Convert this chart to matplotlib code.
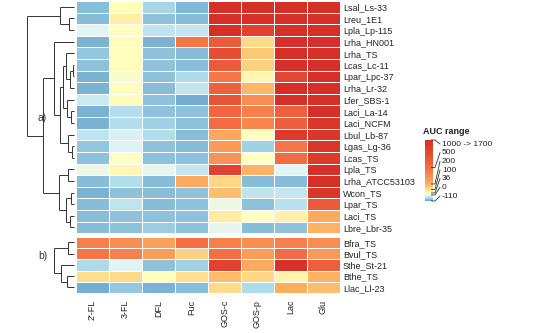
import numpy as np
import matplotlib
matplotlib.use("Agg")
import matplotlib.pyplot as plt

plt.rcParams['font.family'] = ['Liberation Sans', 'DejaVu Sans']

# ---- data ----
columns = ["2'-FL", "3-FL", "DFL", "Fuc", "GOS-c", "GOS-p", "Lac", "Glu"]

rows_a = ["Lsal_Ls-33", "Lreu_1E1", "Lpla_Lp-115", "Lrha_HN001", "Lrha_TS",
          "Lcas_Lc-11", "Lpar_Lpc-37", "Lrha_Lr-32", "Lfer_SBS-1", "Laci_La-14",
          "Laci_NCFM", "Lbul_Lb-87", "Lgas_Lg-36", "Lcas_TS", "Lpla_TS",
          "Lrha_ATCC53103", "Wcon_TS", "Lpar_TS", "Laci_TS", "Lbre_Lbr-35"]
rows_b = ["Bfra_TS", "Bvul_TS", "Sthe_St-21", "Bthe_TS", "Llac_Ll-23"]

# AUC values (estimated from colour)
auc_a = np.array([
    [-85, 40, -60, -90, 1000, 1000, 1000, 1000],
    [-85, 70, -80, -85, 1000, 1000, 1000, 1000],
    [-10, 35, -40, -35, 1000, 850, 1000, 1000],
    [-95, 40, -95, 450, 650, 110, 1000, 1000],
    [-75, 40, -80, -85, 750, 150, 1000, 1000],
    [-80, 40, -80, -85, 650, 130, 1000, 1000],
    [-95, 25, -80, -55, 450, 55, 800, 1000],
    [-95, 40, -85, -40, 600, 180, 1000, 1000],
    [-30, 40, -80, -100, 700, 350, 1000, 1000],
    [-95, -50, -80, -80, 550, 420, 600, 1000],
    [-95, -50, -65, -80, 520, 380, 620, 950],
    [-40, -20, -50, -85, 230, 35, 900, 950],
    [-75, -15, -80, -85, 290, -65, 450, 950],
    [-80, 30, -80, -80, 320, 35, 520, 900],
    [5, 55, -5, -35, 850, 190, -10, 1000],
    [-85, -50, -85, 230, 120, -85, -85, 1000],
    [-95, -80, -85, -80, 170, -40, -35, 950],
    [-85, -40, -85, -80, 5, -80, -45, 650],
    [-85, -80, -80, -80, 75, 35, 65, 210],
    [-85, -80, -70, -80, -5, -85, -80, 190],
])
auc_b = np.array([
    [420, 350, 260, 480, 420, 340, 420, 350],
    [460, 400, 270, 125, 480, 270, 520, 300],
    [-55, -12, -80, -65, 850, 210, 980, 620],
    [105, 110, 38, 100, 170, 115, 60, 190],
    [-100, -75, -95, -85, 110, -55, 200, 170],
])

# dendrograms: (left, right, height); ints are row indices
tree_a = ((0, (1, 2, 2.7), 7.7),
          ((3, (((4, ((5, 6, 1.0), 7, 2.5), 4.5), (8, (9, 10, 2.0), 4.0), 6.0),
                (11, (12, 13, 1.5), 3.5), 7.5), 10.3),
           ((14, 15, 3.5), ((16, 17, 2.0), (18, 19, 2.5), 4.5), 8.0), 16.0),
          24.3)
tree_b = ((0, 1, 3.3), (2, (3, 4, 4.0), 7.0), 10.5)

legend_ticks = [-110, 0, 36, 100, 200, 500, 1000]
legend_labels = ["-110", "0", "36", "100", "200", "500", "1000 -> 1700"]

# ---- colour mapping ----
cmap = plt.get_cmap('RdYlBu_r')
cpos = [0.18, 0.43, 0.5, 0.6, 0.7, 0.8, 0.9]


def to_pos(v):
    return np.interp(v, legend_ticks, cpos)


W, H = 539, 333
fig = plt.figure(figsize=(W / 100, H / 100), dpi=100)


def px_rect(x0, y0, x1, y1):
    return [x0 / W, 1 - y1 / H, (x1 - x0) / W, (y1 - y0) / H]


def draw_tree(ax, node):
    if isinstance(node, int):
        return node + 0.5, 0.0
    left, right, h = node
    yl, hl = draw_tree(ax, left)
    yr, hr = draw_tree(ax, right)
    kw = dict(color='#333333', lw=0.7, solid_capstyle='butt')
    ax.plot([hl, h], [yl, yl], **kw)
    ax.plot([hr, h], [yr, yr], **kw)
    ax.plot([h, h], [yl, yr], **kw)
    return (yl + yr) / 2, h


x0, x1 = 76, 340
blocks = [(rows_a, auc_a, tree_a, 1, 233.2, "a)", 118),
          (rows_b, auc_b, tree_b, 236.8, 293, "b)", 256)]

for i, (rows, auc, tree, ytop, ybot, tag, tag_y) in enumerate(blocks):
    ax = fig.add_axes(px_rect(x0, ytop, x1, ybot))
    ax.pcolormesh(to_pos(auc), cmap=cmap, vmin=0, vmax=1,
                  edgecolors='white', linewidth=0.7)
    ax.set_xlim(0, len(columns))
    ax.set_ylim(len(rows), 0)
    for s in ax.spines.values():
        s.set_visible(False)
    ax.yaxis.tick_right()
    ax.set_yticks(np.arange(len(rows)) + 0.5)
    ax.set_yticklabels(rows, fontsize=6.5, color='#222222')
    ax.tick_params(axis='y', length=0, pad=2)
    if i == 1:
        ax.set_xticks(np.arange(len(columns)) + 0.5)
        ax.set_xticklabels(columns, rotation=90, fontsize=6.5, color='#222222')
        ax.tick_params(axis='x', length=0, pad=5)
    else:
        ax.set_xticks([])

    dax = fig.add_axes(px_rect(25, ytop, x0, ybot))
    draw_tree(dax, tree)
    dax.set_xlim(25.5, -0.8)
    dax.set_ylim(len(rows), 0)
    dax.axis('off')
    fig.text(38 / W, 1 - tag_y / H, tag, fontsize=7.5, color='#333333',
             va='center', ha='left')

# ---- legend ----
bx0, bx1, by0, by1 = 425, 433, 140, 201
cax = fig.add_axes(px_rect(bx0, by0, bx1, by1))
grad = np.linspace(legend_ticks[0], legend_ticks[-1], 256)
cax.imshow(to_pos(grad)[:, None], aspect='auto', cmap=cmap, vmin=0, vmax=1,
           origin='lower')
cax.axis('off')

ov = fig.add_axes([0, 0, 1, 1])
ov.set_xlim(0, W)
ov.set_ylim(H, 0)
ov.axis('off')
ov.patch.set_alpha(0)
ov.text(423, 132, "AUC range", fontsize=6.5, fontweight='bold',
        color='#222222', va='center', ha='left')
label_y = np.linspace(196, 144, len(legend_ticks))
span = legend_ticks[-1] - legend_ticks[0]
for v, lab, ly in zip(legend_ticks, legend_labels, label_y):
    yb = by1 - (v - legend_ticks[0]) / span * (by1 - by0)
    ov.plot([bx1 - 1.5, bx1 + 2, bx1 + 7], [yb, yb, ly], color='#333333', lw=0.6)
    ov.text(bx1 + 9, ly, lab, fontsize=6, color='#222222', va='center', ha='left')

fig.savefig("out.png", dpi=100)
